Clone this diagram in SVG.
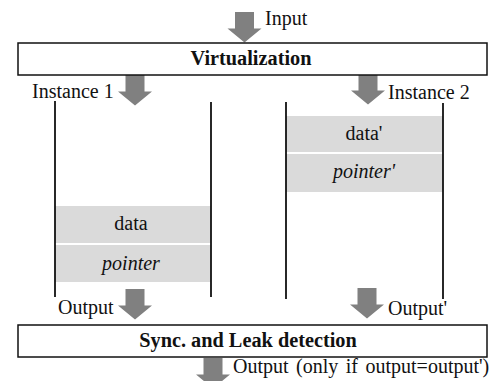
<svg xmlns="http://www.w3.org/2000/svg" width="491" height="381" viewBox="0 0 491 381">
<style>
text{font-family:"Liberation Serif","Times New Roman",serif;font-size:20px;fill:#111}
.b{font-weight:bold;font-size:20.3px}
.i{font-style:italic}
.m{text-anchor:middle}
.box{fill:#fff;stroke:#111;stroke-width:1.5}
.col{stroke:#111;stroke-width:1.8;fill:none}
.cell{fill:#dadada}
.arr{fill:#808080}
</style>
<defs>
<path id="arrow" d="M-9.5,0 H9.5 V16.5 H17 L0,30.5 L-17,16.5 H-9.5 Z"/>
</defs>
<rect width="491" height="381" fill="#fff"/>
<g id="connectors" class="arr">
<use href="#arrow" x="244.5" y="12"/>
<use href="#arrow" x="135" y="75"/>
<use href="#arrow" x="368" y="74"/>
<use href="#arrow" x="135" y="289"/>
<use href="#arrow" x="367" y="288"/>
<use href="#arrow" x="213" y="358"/>
</g>
<g id="virtualization">
<rect class="box" x="18" y="43" width="469" height="32"/>
<text class="b m" x="251" y="65">Virtualization</text>
</g>
<g id="sync">
<rect class="box" x="18" y="325" width="469" height="32"/>
<text class="b m" x="248" y="347">Sync. and Leak detection</text>
</g>
<g id="instance1">
<rect class="cell" x="55" y="206" width="156" height="37"/>
<rect class="cell" x="55" y="245" width="156" height="37"/>
<line class="col" x1="55" y1="101" x2="55" y2="297"/>
<line class="col" x1="211" y1="102" x2="211" y2="297"/>
<text class="m" x="131" y="230">data</text>
<text class="i m" x="131" y="270">pointer</text>
</g>
<g id="instance2">
<rect class="cell" x="286" y="116" width="157" height="36"/>
<rect class="cell" x="286" y="154" width="157" height="38"/>
<line class="col" x1="286" y1="102" x2="286" y2="299"/>
<line class="col" x1="443" y1="103" x2="443" y2="299"/>
<text class="m" x="364" y="140">data'</text>
<text class="i m" x="364" y="178">pointer'</text>
</g>
<g id="labels">
<text x="265" y="25">Input</text>
<text x="32" y="98">Instance 1</text>
<text x="388" y="99">Instance 2</text>
<text x="58" y="314">Output</text>
<text x="388" y="315">Output'</text>
<text x="233" y="373" word-spacing="2.5">Output (only if output=output')</text>
</g>
</svg>
